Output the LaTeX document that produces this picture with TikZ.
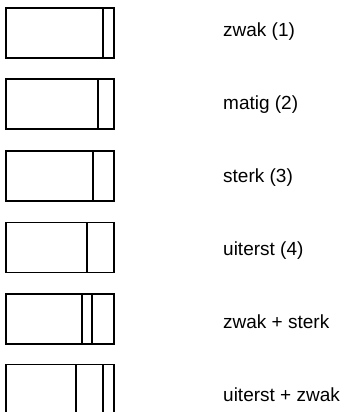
\documentclass[tikz,border=0pt]{standalone}
\usepackage{fontspec}
\setmainfont{Liberation Sans}
\usetikzlibrary{calc}
\begin{document}
\begin{tikzpicture}[x=1bp,y=-1bp,
  box/.style={draw, line width=1.1bp, minimum width=108bp, minimum height=50bp, inner sep=0pt, outer sep=0pt},
  sep/.style={line width=1.1bp},
  lab/.style={anchor=base west, inner sep=0pt, font=\fontsize{19bp}{22bp}\selectfont}]
\useasboundingbox (0,0) rectangle (346,412);
\clip (0,0) rectangle (346,412);
% boxes
\node[box] (b1) at (60,33) {};
\node[box] (b2) at (60,104) {};
\node[box] (b3) at (60,176) {};
\node[box] (b4) at (60,247.5) {};
\node[box] (b5) at (60,319) {};
\node[box] (b6) at (60,389.5) {};
% separators
\draw[sep] ($(b1.north west)+(97,0)$) -- ($(b1.south west)+(97,0)$);
\draw[sep] ($(b2.north west)+(92,0)$) -- ($(b2.south west)+(92,0)$);
\draw[sep] ($(b3.north west)+(87,0)$) -- ($(b3.south west)+(87,0)$);
\draw[sep] ($(b4.north west)+(81,0)$) -- ($(b4.south west)+(81,0)$);
\draw[sep] ($(b5.north west)+(76,0)$) -- ($(b5.south west)+(76,0)$);
\draw[sep] ($(b5.north west)+(86,0)$) -- ($(b5.south west)+(86,0)$);
\draw[sep] ($(b6.north west)+(70,0)$) -- ($(b6.south west)+(70,0)$);
\draw[sep] ($(b6.north west)+(97,0)$) -- ($(b6.south west)+(97,0)$);
% labels
\node[lab] (l1) at (223,36.7) {zwak (1)};
\node[lab] (l2) at (223,109.6) {matig (2)};
\node[lab] (l3) at (223,182.5) {sterk (3)};
\node[lab] (l4) at (223,255.4) {uiterst (4)};
\node[lab] (l5) at (223,328.3) {zwak + sterk};
\node[lab] (l6) at (223,401.2) {uiterst + zwak};
\end{tikzpicture}
\end{document}
